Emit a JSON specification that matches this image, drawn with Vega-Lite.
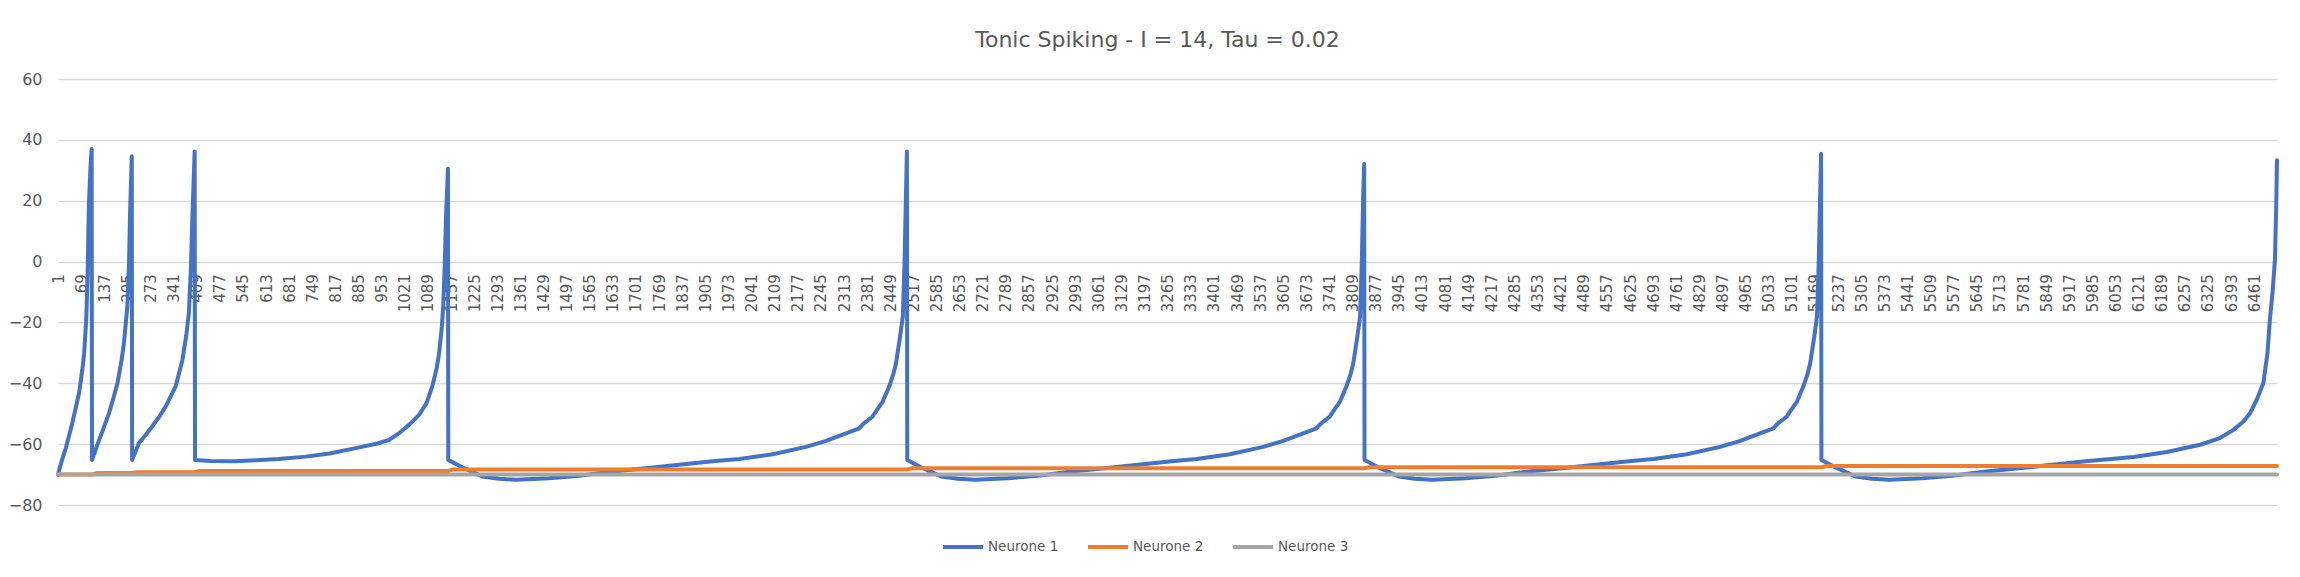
{
  "$schema": "https://vega.github.io/schema/vega-lite/v6.json",
  "width": 2219,
  "height": 426,
  "autosize": {"type": "none"},
  "padding": {"left": 58, "top": 79, "right": 23, "bottom": 72},
  "background": "white",
  "config": {"view": {"stroke": null}},
  "title": {"text": "Tonic Spiking - I = 14, Tau = 0.02", "font": "DejaVu Sans", "fontSize": 22, "fontWeight": "normal", "color": "#595959", "offset": 19, "dx": -10, "anchor": "middle"},
  "data": {"values": [
    {"s":"Neurone 1","i":1,"v":-70},{"s":"Neurone 1","i":12,"v":-65.5},{"s":"Neurone 1","i":24,"v":-61.3},{"s":"Neurone 1","i":43,"v":-53.1},{"s":"Neurone 1","i":63,"v":-43.2},{"s":"Neurone 1","i":72,"v":-36},{"s":"Neurone 1","i":78,"v":-30.1},{"s":"Neurone 1","i":84,"v":-19.1},{"s":"Neurone 1","i":88,"v":-5},{"s":"Neurone 1","i":92,"v":19.3},{"s":"Neurone 1","i":97,"v":32},{"s":"Neurone 1","i":100,"v":37},
    {"s":"Neurone 1","i":101,"v":-65.2},{"s":"Neurone 1","i":122,"v":-58.6},{"s":"Neurone 1","i":136,"v":-54.5},{"s":"Neurone 1","i":151,"v":-49.8},{"s":"Neurone 1","i":165,"v":-44.5},{"s":"Neurone 1","i":176,"v":-39.9},{"s":"Neurone 1","i":188,"v":-32.5},{"s":"Neurone 1","i":195,"v":-26.8},{"s":"Neurone 1","i":205,"v":-14.7},{"s":"Neurone 1","i":210,"v":0},{"s":"Neurone 1","i":213,"v":16},{"s":"Neurone 1","i":218,"v":34.6},
    {"s":"Neurone 1","i":219,"v":-65.2},{"s":"Neurone 1","i":239,"v":-59.7},{"s":"Neurone 1","i":260,"v":-56.8},{"s":"Neurone 1","i":278,"v":-54.2},{"s":"Neurone 1","i":300,"v":-50.8},{"s":"Neurone 1","i":318,"v":-47.6},{"s":"Neurone 1","i":347,"v":-41},{"s":"Neurone 1","i":360,"v":-35.5},{"s":"Neurone 1","i":367,"v":-32.3},{"s":"Neurone 1","i":378,"v":-24.5},{"s":"Neurone 1","i":386,"v":-16.9},{"s":"Neurone 1","i":392,"v":-2},{"s":"Neurone 1","i":396,"v":13.8},{"s":"Neurone 1","i":403,"v":36.2},
    {"s":"Neurone 1","i":404,"v":-65.2},{"s":"Neurone 1","i":450,"v":-65.5},{"s":"Neurone 1","i":520,"v":-65.6},{"s":"Neurone 1","i":583,"v":-65.3},{"s":"Neurone 1","i":650,"v":-64.9},{"s":"Neurone 1","i":730,"v":-64.1},{"s":"Neurone 1","i":800,"v":-63.1},{"s":"Neurone 1","i":877,"v":-61.3},{"s":"Neurone 1","i":940,"v":-59.8},{"s":"Neurone 1","i":975,"v":-58.6},{"s":"Neurone 1","i":1004,"v":-56.4},{"s":"Neurone 1","i":1035,"v":-53.5},{"s":"Neurone 1","i":1063,"v":-50.4},{"s":"Neurone 1","i":1085,"v":-46.5},{"s":"Neurone 1","i":1102,"v":-41},{"s":"Neurone 1","i":1115,"v":-35},{"s":"Neurone 1","i":1122,"v":-30.1},{"s":"Neurone 1","i":1130,"v":-21.5},{"s":"Neurone 1","i":1134,"v":-14.7},{"s":"Neurone 1","i":1139,"v":0},{"s":"Neurone 1","i":1142,"v":13.8},{"s":"Neurone 1","i":1148,"v":30.5},
    {"s":"Neurone 1","i":1149,"v":-65.2},{"s":"Neurone 1","i":1195,"v":-67.9},{"s":"Neurone 1","i":1249,"v":-70.6},{"s":"Neurone 1","i":1298,"v":-71.4},{"s":"Neurone 1","i":1348,"v":-71.7},{"s":"Neurone 1","i":1446,"v":-71.2},{"s":"Neurone 1","i":1534,"v":-70.4},{"s":"Neurone 1","i":1632,"v":-69},{"s":"Neurone 1","i":1730,"v":-67.9},{"s":"Neurone 1","i":1828,"v":-66.8},{"s":"Neurone 1","i":1926,"v":-65.6},
    {"s":"Neurone 1","i":2005,"v":-64.9},{"s":"Neurone 1","i":2103,"v":-63.3},{"s":"Neurone 1","i":2201,"v":-60.9},{"s":"Neurone 1","i":2258,"v":-59},{"s":"Neurone 1","i":2299,"v":-57.3},{"s":"Neurone 1","i":2358,"v":-54.8},{"s":"Neurone 1","i":2368,"v":-53.5},{"s":"Neurone 1","i":2397,"v":-50.9},{"s":"Neurone 1","i":2417,"v":-47.6},{"s":"Neurone 1","i":2427,"v":-46},{"s":"Neurone 1","i":2446,"v":-41},{"s":"Neurone 1","i":2458,"v":-37},{"s":"Neurone 1","i":2466,"v":-33.4},{"s":"Neurone 1","i":2478,"v":-24.6},{"s":"Neurone 1","i":2486,"v":-18},{"s":"Neurone 1","i":2491,"v":-0.5},{"s":"Neurone 1","i":2495,"v":21},{"s":"Neurone 1","i":2498,"v":36.2},
    {"s":"Neurone 1","i":2499,"v":-65.2},{"s":"Neurone 1","i":2545,"v":-67.9},{"s":"Neurone 1","i":2599,"v":-70.6},{"s":"Neurone 1","i":2648,"v":-71.4},{"s":"Neurone 1","i":2698,"v":-71.7},{"s":"Neurone 1","i":2796,"v":-71.2},{"s":"Neurone 1","i":2884,"v":-70.4},{"s":"Neurone 1","i":2982,"v":-69},{"s":"Neurone 1","i":3080,"v":-67.9},{"s":"Neurone 1","i":3178,"v":-66.8},{"s":"Neurone 1","i":3276,"v":-65.6},
    {"s":"Neurone 1","i":3350,"v":-64.9},{"s":"Neurone 1","i":3448,"v":-63.3},{"s":"Neurone 1","i":3546,"v":-60.9},{"s":"Neurone 1","i":3603,"v":-59},{"s":"Neurone 1","i":3644,"v":-57.3},{"s":"Neurone 1","i":3703,"v":-54.8},{"s":"Neurone 1","i":3713,"v":-53.5},{"s":"Neurone 1","i":3742,"v":-50.9},{"s":"Neurone 1","i":3762,"v":-47.6},{"s":"Neurone 1","i":3772,"v":-46},{"s":"Neurone 1","i":3791,"v":-41},{"s":"Neurone 1","i":3803,"v":-37},{"s":"Neurone 1","i":3811,"v":-33.4},{"s":"Neurone 1","i":3823,"v":-24.6},{"s":"Neurone 1","i":3831,"v":-18},{"s":"Neurone 1","i":3836,"v":-0.5},{"s":"Neurone 1","i":3840,"v":21},{"s":"Neurone 1","i":3843,"v":32.1},
    {"s":"Neurone 1","i":3844,"v":-65.2},{"s":"Neurone 1","i":3890,"v":-67.9},{"s":"Neurone 1","i":3944,"v":-70.6},{"s":"Neurone 1","i":3993,"v":-71.4},{"s":"Neurone 1","i":4043,"v":-71.7},{"s":"Neurone 1","i":4141,"v":-71.2},{"s":"Neurone 1","i":4229,"v":-70.4},{"s":"Neurone 1","i":4327,"v":-69},{"s":"Neurone 1","i":4425,"v":-67.9},{"s":"Neurone 1","i":4523,"v":-66.8},{"s":"Neurone 1","i":4621,"v":-65.6},
    {"s":"Neurone 1","i":4694,"v":-64.9},{"s":"Neurone 1","i":4792,"v":-63.3},{"s":"Neurone 1","i":4890,"v":-60.9},{"s":"Neurone 1","i":4947,"v":-59},{"s":"Neurone 1","i":4988,"v":-57.3},{"s":"Neurone 1","i":5047,"v":-54.8},{"s":"Neurone 1","i":5057,"v":-53.5},{"s":"Neurone 1","i":5086,"v":-50.9},{"s":"Neurone 1","i":5106,"v":-47.6},{"s":"Neurone 1","i":5116,"v":-46},{"s":"Neurone 1","i":5135,"v":-41},{"s":"Neurone 1","i":5147,"v":-37},{"s":"Neurone 1","i":5155,"v":-33.4},{"s":"Neurone 1","i":5167,"v":-24.6},{"s":"Neurone 1","i":5175,"v":-18},{"s":"Neurone 1","i":5180,"v":-0.5},{"s":"Neurone 1","i":5184,"v":21},{"s":"Neurone 1","i":5187,"v":35.4},
    {"s":"Neurone 1","i":5188,"v":-65.2},{"s":"Neurone 1","i":5234,"v":-67.9},{"s":"Neurone 1","i":5288,"v":-70.6},{"s":"Neurone 1","i":5337,"v":-71.4},{"s":"Neurone 1","i":5387,"v":-71.7},{"s":"Neurone 1","i":5485,"v":-71.2},{"s":"Neurone 1","i":5573,"v":-70.4},{"s":"Neurone 1","i":5671,"v":-69},{"s":"Neurone 1","i":5769,"v":-67.9},{"s":"Neurone 1","i":5867,"v":-66.8},{"s":"Neurone 1","i":5965,"v":-65.6},
    {"s":"Neurone 1","i":6040,"v":-64.9},{"s":"Neurone 1","i":6106,"v":-64.2},{"s":"Neurone 1","i":6204,"v":-62.6},{"s":"Neurone 1","i":6302,"v":-60.2},{"s":"Neurone 1","i":6360,"v":-58},{"s":"Neurone 1","i":6400,"v":-55.3},{"s":"Neurone 1","i":6430,"v":-52.5},{"s":"Neurone 1","i":6449,"v":-49.8},{"s":"Neurone 1","i":6470,"v":-45},{"s":"Neurone 1","i":6488,"v":-39.9},{"s":"Neurone 1","i":6500,"v":-30},{"s":"Neurone 1","i":6507,"v":-19.1},{"s":"Neurone 1","i":6515,"v":-10},{"s":"Neurone 1","i":6522,"v":0.6},{"s":"Neurone 1","i":6526,"v":20},{"s":"Neurone 1","i":6528,"v":33.3},
    {"s":"Neurone 2","i":1,"v":-70},{"s":"Neurone 2","i":100,"v":-70},{"s":"Neurone 2","i":115,"v":-69.5},{"s":"Neurone 2","i":218,"v":-69.5},{"s":"Neurone 2","i":232,"v":-69.2},{"s":"Neurone 2","i":403,"v":-69.2},{"s":"Neurone 2","i":418,"v":-68.8},{"s":"Neurone 2","i":1148,"v":-68.8},{"s":"Neurone 2","i":1165,"v":-68.3},{"s":"Neurone 2","i":2498,"v":-68.3},{"s":"Neurone 2","i":2515,"v":-67.9},{"s":"Neurone 2","i":3843,"v":-67.9},{"s":"Neurone 2","i":3860,"v":-67.6},{"s":"Neurone 2","i":5187,"v":-67.6},{"s":"Neurone 2","i":5204,"v":-67.2},{"s":"Neurone 2","i":6528,"v":-67.2},
    {"s":"Neurone 3","i":1,"v":-70},{"s":"Neurone 3","i":6528,"v":-70}
  ]},
  "mark": {"type": "line", "strokeWidth": 4, "strokeCap": "round", "strokeJoin": "round"},
  "encoding": {
    "x": {"field": "i", "type": "quantitative", "scale": {"domain": [1, 6528], "nice": false, "zero": false},
      "axis": {"title": null, "values": [1,69,137,205,273,341,409,477,545,613,681,749,817,885,953,1021,1089,1157,1225,1293,1361,1429,1497,1565,1633,1701,1769,1837,1905,1973,2041,2109,2177,2245,2313,2381,2449,2517,2585,2653,2721,2789,2857,2925,2993,3061,3129,3197,3265,3333,3401,3469,3537,3605,3673,3741,3809,3877,3945,4013,4081,4149,4217,4285,4353,4421,4489,4557,4625,4693,4761,4829,4897,4965,5033,5101,5169,5237,5305,5373,5441,5509,5577,5645,5713,5781,5849,5917,5985,6053,6121,6189,6257,6325,6393,6461],
        "format": "d", "labelAngle": -90, "grid": false, "domain": false, "ticks": false, "tickSize": 0, "labelPadding": 12, "offset": -243.4,
        "labelFont": "DejaVu Sans", "labelFontSize": 15, "labelColor": "#595959", "labelOverlap": false, "labelBound": false, "labelFlush": false}},
    "y": {"field": "v", "type": "quantitative", "scale": {"domain": [-80, 60], "nice": false, "zero": false},
      "axis": {"title": null, "values": [-80,-60,-40,-20,0,20,40,60], "grid": true, "gridColor": "#D9D9D9", "gridWidth": 1.4, "domain": false, "ticks": false, "tickSize": 0, "labelPadding": 16,
        "labelFont": "DejaVu Sans", "labelFontSize": 16, "labelColor": "#595959"}},
    "color": {"field": "s", "type": "nominal", "scale": {"domain": ["Neurone 1","Neurone 2","Neurone 3"], "range": ["#4472C4","#ED7D31","#A5A5A5"]},
      "legend": {"title": null, "orient": "none", "legendX": 883, "legendY": 446, "direction": "horizontal", "symbolType": "stroke", "symbolSize": 1600, "symbolStrokeWidth": 4, "labelFont": "DejaVu Sans", "labelFontSize": 13.5, "labelColor": "#595959", "labelOffset": 3, "columnPadding": 21, "padding": 0}}
  }
}
